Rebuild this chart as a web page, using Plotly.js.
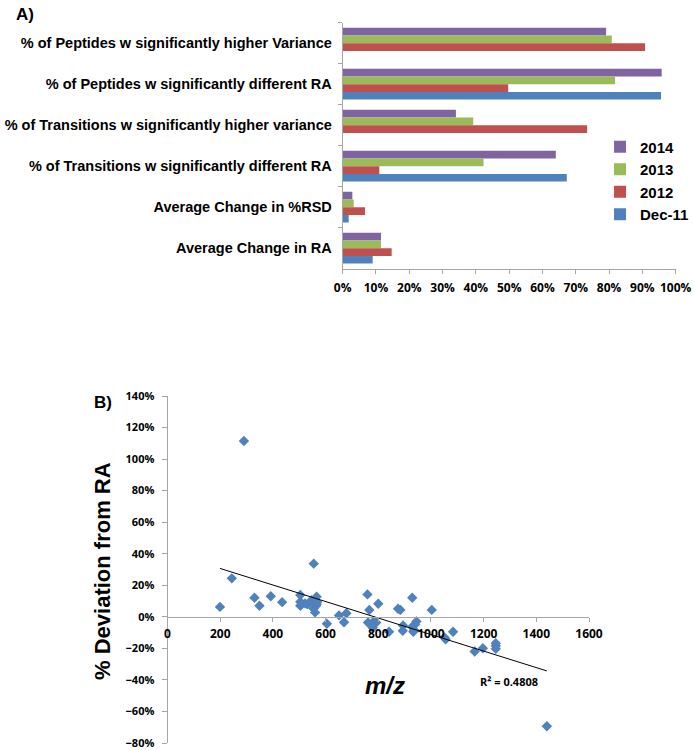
<!DOCTYPE html>
<html><head><meta charset="utf-8">
<script src="https://cdn.plot.ly/plotly-3.0.1.min.js"></script>
<style>html,body{margin:0;padding:0;background:#fff}#chart{width:694px;height:750px}</style>
</head><body><div id="chart"></div>
<script>
// ---- Panel A data ----
const categories = [
  "% of Peptides w significantly higher Variance",
  "% of Peptides w significantly different RA",
  "% of Transitions w significantly higher variance",
  "% of Transitions w significantly different RA",
  "Average Change in %RSD",
  "Average Change in RA"
];
const seriesNames = ["2014", "2013", "2012", "Dec-11"];
const values2014  = [79.1, 95.8, 34.0, 64.0, 2.9, 11.5];
const values2013  = [80.8, 81.8, 39.2, 42.3, 3.3, 11.5];
const values2012  = [90.8, 49.7, 73.4, 11.0, 6.7, 14.7];
const valuesDec11 = [null, 95.6, null, 67.3, 1.8, 9.0];

// ---- Panel B data ----
const mz = [199, 244, 290, 330, 349, 392, 435, 504, 504, 504, 509, 522, 531, 547, 555, 554, 556, 560, 564, 566, 566, 568,
            605, 651, 670, 679, 759, 766, 761, 781, 792, 779, 800, 841, 875, 884, 894, 893, 929, 929, 936, 940, 945, 933,
            1003, 1051, 1056, 1084, 1166, 1197, 1246, 1246, 1246, 1440];
const deviation = [6.3, 24.4, 111.5, 12.1, 7.0, 13.0, 9.3, 13.8, 9.5, 7.0, 7.9, 8.5, 7.9, 10.6, 33.7, 5.3, 9.5, 2.8, 7.0, 12.7, 7.9, 9.5,
            -4.4, 0.9, -3.4, 2.3, 14.2, 4.3, -3.6, -3.2, -3.6, -7.0, 8.3, -9.5, 5.1, 4.4, -5.5, -8.9, 12.1, -6.3, -8.4, -4.8, -2.9, -9.5,
            4.4, -13.1, -14.2, -9.5, -22.0, -19.9, -16.7, -18.4, -20.3, -69.4];
const trendX = [199, 1440];
const trendY = [30.7, -34.3];
const rSquaredText = "R² = 0.4808";

const colors = {"2014": "#8064A2", "2013": "#9BBB59", "2012": "#C0504D", "Dec-11": "#4F81BD"};
const seriesVals = {"2014": values2014, "2013": values2013, "2012": values2012, "Dec-11": valuesDec11};

const axisGray = "#A6A6A6";
const numFont = {family: "Open Sans, sans-serif", size: 12, color: "#000", weight: "bold"};
const arialBold = (s) => ({family: "Liberation Sans, Arial, sans-serif", size: s, color: "#000", weight: "bold"});

const traces = seriesNames.map(n => ({
  type: "bar", orientation: "h", name: n,
  y: categories, x: seriesVals[n],
  marker: {color: colors[n]},
  xaxis: "x", yaxis: "y", hoverinfo: "x+name"
}));

traces.push({
  type: "scatter", mode: "markers", x: mz, y: deviation,
  marker: {symbol: "diamond", size: 8, color: "#4F81BD"},
  xaxis: "x2", yaxis: "y2", showlegend: false
});
traces.push({
  type: "scatter", mode: "lines", x: trendX, y: trendY,
  line: {color: "#000", width: 1},
  xaxis: "x2", yaxis: "y2", showlegend: false
});

const layout = {
  width: 694, height: 750,
  margin: {l: 0, r: 0, t: 0, b: 0, autoexpand: false},
  paper_bgcolor: "#fff", plot_bgcolor: "#fff",
  barmode: "group", bargap: 0.25, bargroupgap: 0,
  showlegend: true,
  legend: {
    x: 0.8646, y: 0.826, xanchor: "left", yanchor: "top",
    traceorder: "normal", font: arialBold(15), bgcolor: "rgba(0,0,0,0)",
    itemclick: false
  },
  xaxis: {
    domain: [0.4938, 0.9736], range: [0, 100], tick0: 0, dtick: 10, ticksuffix: "%", automargin: false,
    showline: true, linecolor: axisGray, linewidth: 1, ticks: "outside", ticklen: 4, tickcolor: axisGray,
    showgrid: false, zeroline: false, anchor: "y", tickfont: numFont, ticklabelstandoff: 4, fixedrange: true
  },
  yaxis: {
    domain: [0.6417, 0.9697], type: "category", autorange: "reversed", automargin: false,
    showline: true, linecolor: axisGray, ticks: "outside", tickson: "boundaries", ticklen: 4, tickcolor: axisGray,
    showgrid: false, zeroline: false, anchor: "x", tickfont: arialBold(14.5), ticklabelstandoff: 7, fixedrange: true
  },
  xaxis2: {
    domain: [0.2414, 0.8487], range: [0, 1600], dtick: 200, tick0: 0, automargin: false,
    anchor: "free", position: 0.1777,
    showline: true, linecolor: axisGray, ticks: "outside", ticklen: 4, tickcolor: axisGray,
    showgrid: false, zeroline: false, tickfont: numFont, ticklabelstandoff: 2, fixedrange: true
  },
  yaxis2: {
    domain: [0.00933, 0.472], range: [-80, 140], dtick: 20, tick0: 0, ticksuffix: "%", automargin: false,
    anchor: "x2", showline: true, linecolor: axisGray, ticks: "outside", ticklen: 5, tickcolor: axisGray,
    showgrid: false, zeroline: false, tickfont: Object.assign({}, numFont, {size: 11}), ticklabelstandoff: 5, fixedrange: true
  },
  annotations: [
    {text: "A)", xref: "paper", yref: "paper", x: 14/694, y: 1 - 14/750, xanchor: "left", yanchor: "middle",
     showarrow: false, font: arialBold(17)},
    {text: "B)", xref: "paper", yref: "paper", x: 92/694, y: 1 - 402/750, xanchor: "left", yanchor: "middle",
     showarrow: false, font: arialBold(17)},
    {text: "% Deviation from RA", xref: "paper", yref: "paper", x: 102/694, y: 1 - 571/750, xanchor: "center", yanchor: "middle",
     textangle: -90, showarrow: false, font: arialBold(22)},
    {text: "<i>m/z</i>", xref: "paper", yref: "paper", x: 385/694, y: 1 - 685/750, xanchor: "center", yanchor: "middle",
     showarrow: false, font: arialBold(24)},
    {text: rSquaredText, xref: "paper", yref: "paper", x: 478/694, y: 1 - 681/750, xanchor: "left", yanchor: "middle",
     showarrow: false, font: {family: "Open Sans, sans-serif", size: 11, color: "#000", weight: "bold"}}
  ]
};

Plotly.newPlot("chart", traces, layout, {displayModeBar: false, staticPlot: true});
</script>
</body></html>
